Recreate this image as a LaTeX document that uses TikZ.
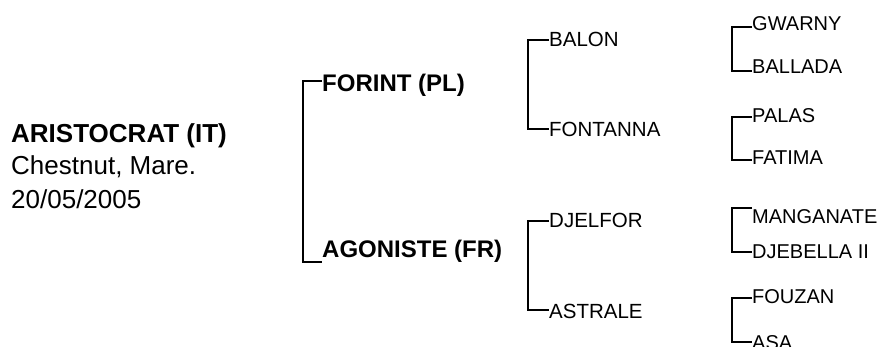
\documentclass[tikz,border=0pt]{standalone}
\usepackage{fontspec}
\setmainfont{Liberation Sans}
\usetikzlibrary{positioning}
\tikzset{
	horse/.style={anchor=base west, inner sep=0pt},
	gen1/.style={horse, font=\fontsize{24}{28}\selectfont\bfseries},
	gen2/.style={horse, font=\fontsize{20.5}{24}\selectfont},
	gen3/.style={horse, font=\fontsize{20}{24}\selectfont},
	bracket/.style={line width=2.7pt}
}

\begin{document}
\begin{tikzpicture}[x=1pt, y=-1pt]
	\useasboundingbox (0,0) rectangle (890,347);
	
	% the mare herself
	\node[horse, align=left, font=\fontsize{26}{33}\selectfont] (mare) at (11,208) {\textbf{ARISTOCRAT (IT)}\\Chestnut, Mare.\\20/05/2005};
	
	% parents
	\node[gen1] (sire) at (322,92) {FORINT (PL)};
	\node[gen1] (dam) at (322,257) {AGONISTE (FR)};
	\draw[bracket] ([yshift=11pt]sire.base west) -- ++(-19,0) |- ([yshift=-5pt]dam.base west);
	
	% grandparents
	\node[gen2] (ss) at (549,47) {BALON};
	\node[gen2] (sd) at (549,137) {FONTANNA};
	\node[gen2] (ds) at (549,227) {DJELFOR};
	\node[gen2] (dd) at (549,318) {ASTRALE};
	\draw[bracket] ([yshift=7pt]ss.base west) -- ++(-21,0) |- ([yshift=8pt]sd.base west);
	\draw[bracket] ([yshift=6pt]ds.base west) -- ++(-21,0) |- ([yshift=8pt]dd.base west);
	
	% great-grandparents
	\node[gen3] (sss) at (752,31) {GWARNY};
	\node[gen3] (ssd) at (752,74) {BALLADA};
	\node[gen3] (sds) at (752,123) {PALAS};
	\node[gen3] (sdd) at (752,165) {FATIMA};
	\node[gen3] (dss) at (752,223) {MANGANATE};
	\node[gen3] (dsd) at (752,258) {DJEBELLA II};
	\node[gen3] (dds) at (752,303) {FOUZAN};
	\node[gen3] (ddd) at (752,349) {ASA};
	\draw[bracket] ([yshift=4pt]sss.base west) -- ++(-20,0) |- ([yshift=3pt]ssd.base west);
	\draw[bracket] ([yshift=6pt]sds.base west) -- ++(-20,0) |- ([yshift=5pt]sdd.base west);
	\draw[bracket] ([yshift=15pt]dss.base west) -- ++(-20,0) |- ([yshift=6pt]dsd.base west);
	\draw[bracket] ([yshift=5pt]dds.base west) -- ++(-20,0) |- ([yshift=7pt]ddd.base west);
\end{tikzpicture}
\end{document}
